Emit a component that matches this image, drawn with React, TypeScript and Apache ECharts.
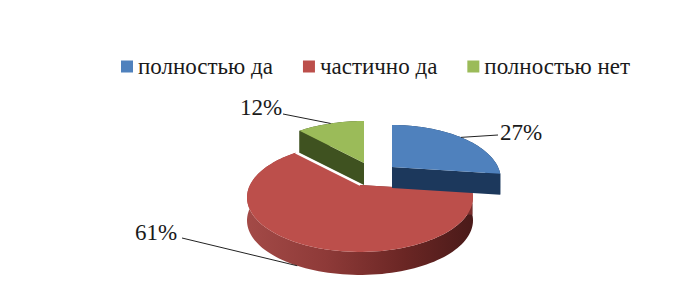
import React, { useEffect, useRef } from "react";
import * as echarts from "echarts";

const categories = ["полностью да", "частично да", "полностью нет"];
const values = [27, 61, 12];
const percentLabels = ["27%", "61%", "12%"];
const topColors = ["#4F81BD", "#BC4F4B", "#9BBB59"];
const cutColors = ["#1C385C", "#7A2E2C", "#3F5220"];
// layout of each exploded slice
const apexes = [[392, 167], [360, 185], [364, 163]];
const radii = [106, 110, 110];
const depths = [21, 23, 22];
const labelBoxes = [[500, 132], [135, 232], [240, 107]];
const leaderStarts = [[498, 135], [182, 238], [283, 114]];
const drawOrder = [2, 1, 0];

const S = 51.6, K = 0.229;
const total = values.reduce((a, b) => a + b, 0);

function project(apex: number[], R: number, deg: number): number[] {
  const t = (deg * Math.PI) / 180;
  const u = Math.sin(t), v = Math.cos(t);
  const w = 1 + K * v;
  return [apex[0] + (R * u) / w, apex[1] - (S * v) / w];
}

function sliceAngles(i: number): [number, number] {
  let before = 0;
  for (let j = 0; j < i; j++) before += values[j];
  return [(before / total) * 360, ((before + values[i]) / total) * 360];
}

function renderSlice(i: number) {
  const [a0, a1] = sliceAngles(i);
  const apex = apexes[i];
  const R = radii[i];
  const d = depths[i];
  const arc: number[][] = [];
  const steps = Math.ceil((a1 - a0) / 2);
  for (let s = 0; s <= steps; s++) arc.push(project(apex, R, a0 + ((a1 - a0) * s) / steps));
  const down = (p: number[]) => [p[0], p[1] + d];
  const wall = [...arc, ...arc.map(down).reverse()];
  const first = arc[0], last = arc[arc.length - 1];
  const wallFill: any =
    i === 1
      ? new echarts.graphic.LinearGradient(0, 0, 1, 0, [
          { offset: 0, color: "#A34A47" },
          { offset: 0.35, color: "#8E3A38" },
          { offset: 0.7, color: "#6A2624" },
          { offset: 1, color: "#4A1A19" },
        ])
      : cutColors[i];
  const mid = project(apex, R, (a0 + a1) / 2);
  const leaderEnd = i === 1 ? down(mid) : mid;
  const children: any[] = [
    { type: "polygon", shape: { points: wall }, style: { fill: wallFill } },
    { type: "polygon", shape: { points: [apex, first, down(first), down(apex)] }, style: { fill: cutColors[i] } },
    { type: "polygon", shape: { points: [apex, last, down(last), down(apex)] }, style: { fill: cutColors[i] } },
    { type: "polygon", shape: { points: [apex, ...arc] }, style: { fill: topColors[i] } },
  ];
  if (i === 1) {
    children.push({ type: "line", shape: { x1: last[0], y1: last[1], x2: apex[0], y2: apex[1] }, style: { stroke: "#fff", lineWidth: 1.5 } });
  }
  children.push({
    type: "polyline",
    shape: { points: [leaderStarts[i], leaderEnd] },
    style: { stroke: "#222", lineWidth: 1, fill: "none" },
  });
  children.push({
    type: "text",
    style: {
      text: percentLabels[i],
      x: labelBoxes[i][0],
      y: labelBoxes[i][1],
      fill: "#1a1a1a",
      font: '23px "Liberation Serif"',
      textAlign: "left",
      textVerticalAlign: "middle",
    },
  });
  return { type: "group", children };
}

export default function App() {
  const ref = useRef<HTMLDivElement>(null);
  useEffect(() => {
    document.body.style.margin = "0";
    const chart = echarts.init(ref.current!, undefined, { renderer: "svg" });
    chart.setOption({
      animation: false,
      backgroundColor: "#fff",
      legend: {
        data: categories,
        left: 116,
        top: 50,
        icon: "rect",
        itemWidth: 12,
        itemHeight: 12,
        itemGap: 30,
        textStyle: { fontFamily: "Liberation Serif", fontSize: 23, color: "#1a1a1a", padding: [0, 0, 0, 0] },
      },
      series: drawOrder.map((i) => ({
        type: "custom",
        name: categories[i],
        coordinateSystem: "none",
        silent: true,
        itemStyle: { color: topColors[i] },
        data: [values[i]],
        renderItem: () => renderSlice(i),
      })),
    });
    return () => chart.dispose();
  }, []);
  return <div ref={ref} style={{ width: 693, height: 294 }} />;
}
